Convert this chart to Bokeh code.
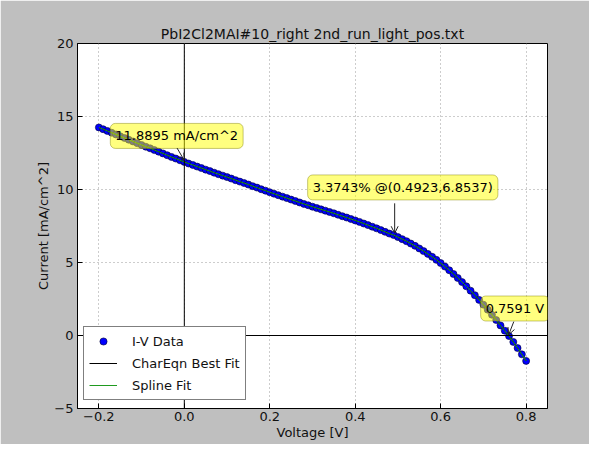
from bokeh.plotting import figure
from bokeh.models import (Span, Label, Arrow, OpenHead, Legend, LegendItem,
                          FixedTicker, Range1d)
from bokeh.embed import file_html
from bokeh.resources import INLINE

title_text = "PbI2Cl2MAI#10_right 2nd_run_light_pos.txt"

voltage = [-0.20, -0.19, -0.18, -0.17, -0.16, -0.15, -0.14, -0.13, -0.12, -0.11,
           -0.10, -0.09, -0.08, -0.07, -0.06, -0.05, -0.04, -0.03, -0.02, -0.01,
           0.00, 0.01, 0.02, 0.03, 0.04, 0.05, 0.06, 0.07, 0.08, 0.09,
           0.10, 0.11, 0.12, 0.13, 0.14, 0.15, 0.16, 0.17, 0.18, 0.19,
           0.20, 0.21, 0.22, 0.23, 0.24, 0.25, 0.26, 0.27, 0.28, 0.29,
           0.30, 0.31, 0.32, 0.33, 0.34, 0.35, 0.36, 0.37, 0.38, 0.39,
           0.40, 0.41, 0.42, 0.43, 0.44, 0.45, 0.46, 0.47, 0.48, 0.49,
           0.50, 0.51, 0.52, 0.53, 0.54, 0.55, 0.56, 0.57, 0.58, 0.59,
           0.60, 0.61, 0.62, 0.63, 0.64, 0.65, 0.66, 0.67, 0.68, 0.69,
           0.70, 0.71, 0.72, 0.73, 0.74, 0.75, 0.76, 0.77, 0.78, 0.79, 0.80]

current = [14.25, 14.13, 14.01, 13.89, 13.77, 13.65, 13.53, 13.41, 13.29, 13.17,
           13.05, 12.93, 12.82, 12.70, 12.59, 12.47, 12.35, 12.23, 12.12, 12.00,
           11.89, 11.78, 11.68, 11.57, 11.47, 11.36, 11.26, 11.15, 11.05, 10.95,
           10.85, 10.75, 10.64, 10.54, 10.44, 10.34, 10.23, 10.13, 10.02, 9.92,
           9.81, 9.71, 9.61, 9.51, 9.41, 9.31, 9.21, 9.11, 9.01, 8.92,
           8.82, 8.73, 8.64, 8.55, 8.46, 8.37, 8.27, 8.17, 8.08, 7.98,
           7.88, 7.78, 7.67, 7.56, 7.45, 7.34, 7.22, 7.10, 6.98, 6.88,
           6.74, 6.60, 6.46, 6.30, 6.14, 5.96, 5.78, 5.59, 5.39, 5.18,
           4.96, 4.72, 4.47, 4.21, 3.94, 3.66, 3.37, 3.07, 2.76, 2.44,
           2.11, 1.77, 1.42, 1.06, 0.69, 0.33, -0.04, -0.44, -0.86, -1.29, -1.74]

fit_voltage = voltage
fit_current = current
spline_voltage = voltage
spline_current = current

isc = 11.8895
efficiency = 3.3743
vmp = 0.4923
jmp = 6.8537
voc = 0.7591

x_ticks = [-0.2, 0.0, 0.2, 0.4, 0.6, 0.8]
x_tick_labels = ["\u22120.2", "0.0", "0.2", "0.4", "0.6", "0.8"]
y_ticks = [-5, 0, 5, 10, 15, 20]
y_tick_labels = ["\u22125", "0", "5", "10", "15", "20"]

FONT = "DejaVu Sans"

p = figure(width=589, height=444, output_backend="svg", toolbar_location=None,
           x_range=Range1d(-0.25, 0.85), y_range=Range1d(-5, 20),
           min_border_left=77, min_border_right=42, min_border_top=43,
           min_border_bottom=36, title=title_text)

p.border_fill_color = "#bfbfbf"
p.background_fill_color = "white"
p.outline_line_color = "black"
p.outline_line_width = 1
p.outline_line_alpha = 1

p.title.align = "center"
p.title.text_font = FONT
p.title.text_font_size = "14px"
p.title.text_font_style = "normal"
p.title.text_color = "#111111"
p.title.standoff = 3

for ax in (p.xaxis[0], p.yaxis[0]):
    ax.axis_line_color = "black"
    ax.major_tick_in = 5
    ax.major_tick_out = 0
    ax.minor_tick_in = 0
    ax.minor_tick_out = 0
    ax.major_tick_line_color = "black"
    ax.major_label_text_font = FONT
    ax.major_label_text_font_size = "13px"
    ax.major_label_text_color = "#111111"
    ax.axis_label_text_font = FONT
    ax.axis_label_text_font_size = "13px"
    ax.axis_label_text_font_style = "normal"
    ax.axis_label_text_color = "#111111"

p.xaxis.ticker = FixedTicker(ticks=x_ticks)
p.yaxis.ticker = FixedTicker(ticks=y_ticks)
p.xaxis.major_label_overrides = {t: s for t, s in zip(x_ticks, x_tick_labels)}
p.yaxis.major_label_overrides = {t: s for t, s in zip(y_ticks, y_tick_labels)}
p.xaxis.axis_label = "Voltage [V]"
p.yaxis.axis_label = "Current [mA/cm^2]"
p.xaxis.major_label_standoff = 3
p.xaxis.axis_label_standoff = 1
p.yaxis.major_label_standoff = 4
p.yaxis.axis_label_standoff = 0

p.grid.grid_line_color = "#9a9a9a"
p.grid.grid_line_dash = "1 3"
p.grid.grid_line_width = 1

p.add_layout(Span(location=0, dimension="width", line_color="black", line_width=1))
p.add_layout(Span(location=0, dimension="height", line_color="black", line_width=1))

r_data = p.scatter(voltage, current, size=7, fill_color="#0000ff",
                   line_color="#000033", line_width=0.6)
r_fit = p.line(fit_voltage, fit_current, line_color="black", line_width=1)
r_spline = p.line(spline_voltage, spline_current, line_color="#1f9a1f", line_width=1)

box_style = dict(text_font=FONT, text_font_size="13px", text_color="black",
                 text_baseline="middle", text_align="left",
                 background_fill_color="#ffff00", background_fill_alpha=0.5,
                 border_line_color="#808000", border_line_alpha=0.45,
                 border_line_width=1, padding=5, border_radius=5)

p.add_layout(Label(x=0, y=isc, x_offset=-74, y_offset=26,
                   text="%.4f mA/cm^2" % isc, **box_style))
p.add_layout(Label(x=vmp, y=jmp, x_offset=-87, y_offset=48,
                   text="%.4f%% @(%.4f,%.4f)" % (efficiency, vmp, jmp), **box_style))
p.add_layout(Label(x=voc, y=0, x_offset=-28, y_offset=27,
                   text="%.4f V" % voc, **box_style))

p.add_layout(Arrow(end=OpenHead(size=7, line_color="#222222", line_width=1),
                   x_start=-0.017, y_start=isc + 0.95, x_end=0, y_end=isc + 0.1,
                   line_color="#222222", line_width=1))
p.add_layout(Arrow(end=OpenHead(size=7, line_color="#222222", line_width=1),
                   x_start=vmp, y_start=jmp + 2.2, x_end=vmp, y_end=jmp + 0.15,
                   line_color="#222222", line_width=1))
p.add_layout(Arrow(end=OpenHead(size=7, line_color="#222222", line_width=1),
                   x_start=voc + 0.012, y_start=0.95, x_end=voc, y_end=0.05,
                   line_color="#222222", line_width=1))

legend = Legend(items=[LegendItem(label="I-V Data", renderers=[r_data]),
                       LegendItem(label="CharEqn Best Fit", renderers=[r_fit]),
                       LegendItem(label="Spline Fit", renderers=[r_spline])],
                location=(6, 8), margin=0, padding=5, spacing=4,
                glyph_width=28, glyph_height=18, label_height=18,
                label_standoff=15, label_text_font=FONT,
                label_text_font_size="13px", label_text_color="#111111",
                border_line_color="black", border_line_width=1,
                background_fill_color="white", background_fill_alpha=1)
p.add_layout(legend)

open("out.html", "w").write(file_html(p, INLINE))
